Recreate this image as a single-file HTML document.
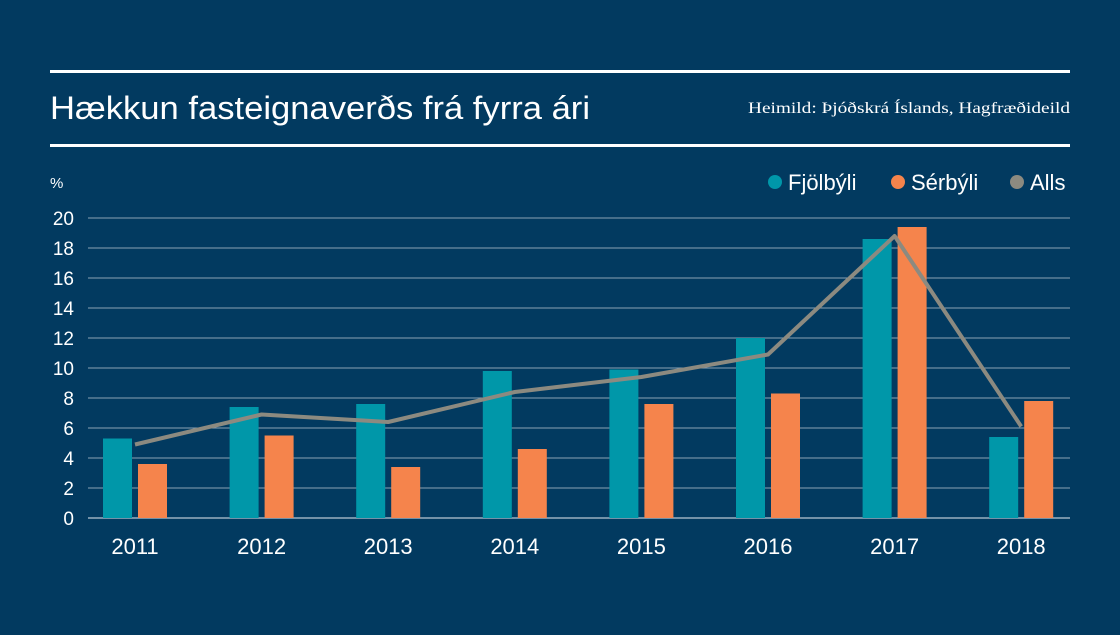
<!DOCTYPE html>
<html><head><meta charset="utf-8">
<style>
body{margin:0;width:1120px;height:630px;background:#023a60;overflow:hidden;font-family:"Liberation Sans",sans-serif;color:#fff}
</style></head><body>
<svg width="1120" height="630">
<rect width="1120" height="630" fill="#023a60"/>
<rect x="50" y="70" width="1020" height="3" fill="#fff"/>
<rect x="50" y="144" width="1020" height="3" fill="#fff"/>
<text x="50" y="119" font-size="32" fill="#fff" textLength="540" lengthAdjust="spacingAndGlyphs">Hækkun fasteignaverðs frá fyrra ári</text>
<text x="1070" y="113" font-size="16" fill="#fff" text-anchor="end" textLength="322" lengthAdjust="spacingAndGlyphs" font-family="Liberation Serif, serif">Heimild: Þjóðskrá Íslands, Hagfræðideild</text>
<text x="50" y="188" font-size="15" fill="#fff">%</text>
<g>
<circle cx="775" cy="182" r="7" fill="#0097a9"/>
<text x="788" y="190" font-size="22" fill="#fff">Fjölbýli</text>
<circle cx="898" cy="182" r="7" fill="#f5844c"/>
<text x="911" y="190" font-size="22" fill="#fff">Sérbýli</text>
<circle cx="1017" cy="182" r="7" fill="#8c8a80"/>
<text x="1030" y="190" font-size="22" fill="#fff">Alls</text>
</g>
<g id="plot"></g>
</svg>
<script>
const categories=["2011","2012","2013","2014","2015","2016","2017","2018"];
const fjolbyli=[5.3,7.4,7.6,9.8,9.9,12.0,18.6,5.4];
const serbyli=[3.6,5.5,3.4,4.6,7.6,8.3,19.4,7.8];
const alls=[4.9,6.9,6.4,8.4,9.4,10.9,18.8,6.1];
const yTicks=[0,2,4,6,8,10,12,14,16,18,20];
const NS="http://www.w3.org/2000/svg";
const g=document.getElementById("plot");
const y=v=>518-v*15;
const xc=i=>135+i*126.6;
function mk(t,a){const e=document.createElementNS(NS,t);for(const k in a)e.setAttribute(k,a[k]);g.appendChild(e);return e;}
yTicks.forEach(t=>{
 const l=mk("line",{x1:88,x2:1070,y1:y(t),y2:y(t),stroke:"#b9c6d2","stroke-width":t===0?1.2:0.7});
 
 
 const tx=mk("text",{x:74,y:y(t)+7,"font-size":19,fill:"#fff","text-anchor":"end"});tx.textContent=t;
 
 
});
categories.forEach((c,i)=>{
 const b1=mk("rect",{x:xc(i)-32,y:y(fjolbyli[i]),width:29,height:fjolbyli[i]*15,fill:"#0097a9"});
 
 
 const b2=mk("rect",{x:xc(i)+3,y:y(serbyli[i]),width:29,height:serbyli[i]*15,fill:"#f5844c"});
 
 
 const tx=mk("text",{x:xc(i),y:554,"font-size":22,fill:"#fff","text-anchor":"middle"});tx.textContent=c;
 
 
});
const ln=mk("polyline",{points:alls.map((v,i)=>xc(i)+","+y(v)).join(" "),fill:"none",stroke:"#8c8a80","stroke-width":4,"stroke-linejoin":"round"});


</script>
</body></html>
